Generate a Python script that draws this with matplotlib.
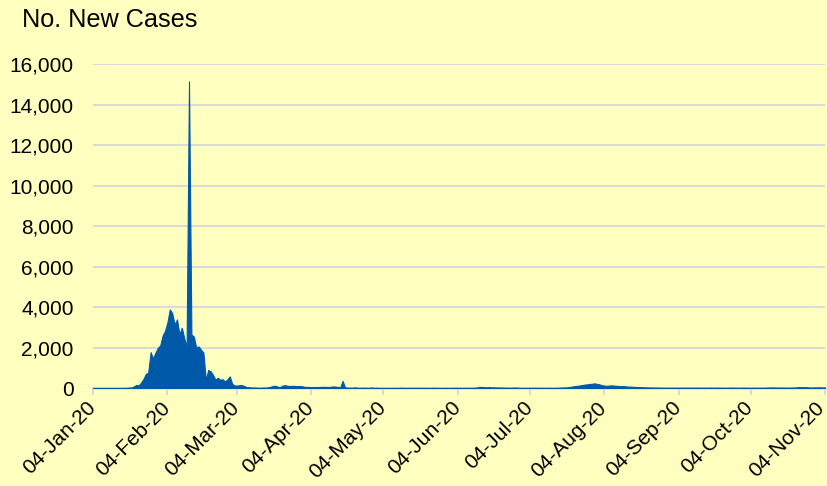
import numpy as np
import pandas as pd
import matplotlib
matplotlib.use("Agg")
import matplotlib.pyplot as plt
import matplotlib.dates as mdates
from matplotlib.ticker import FuncFormatter
from matplotlib.transforms import ScaledTranslation

plt.rcParams['font.family'] = ['Liberation Sans', 'DejaVu Sans']

# Daily new cases, starting 04-Jan-20
start_date = "2020-01-04"
jan = [0, 0, 0, 0, 0, 0, 0, 0, 0, 0, 0, 0, 0, 4, 4, 17, 20,
       77, 149, 131, 259, 444, 688, 769, 1771, 1459, 1737, 1981]
feb = [2099, 2589, 2825, 3235, 3884, 3694, 3143, 3385, 2652, 2973, 2467, 2015,
       15141, 2640, 2540, 2009, 2051, 1891, 1751, 394, 891, 826, 648, 409,
       508, 406, 433, 327, 427]
mar = [573, 202, 125, 119, 139, 143, 99, 44, 40, 19, 24, 15, 8, 11, 20, 16,
       30, 60, 100, 110, 60, 50, 120, 140, 110, 100, 110, 100, 90, 100, 90]
apr = [60, 55, 50, 45, 40, 45, 50, 55, 60, 55, 50, 60, 80, 70, 45, 30,
       352, 27, 16, 12, 11, 30, 10, 6, 12, 11, 3, 6, 22, 4]
may = [12, 2, 1, 3, 1, 2, 1, 4, 1, 1, 14, 1, 7, 3, 7, 4, 5, 7, 6, 6, 5, 3,
       2, 3, 11, 7, 4, 1, 2, 4, 2]
jun = [1, 5, 5, 7, 6, 6, 4, 6, 3, 3, 11, 18, 57, 49, 40, 32, 44, 26, 32, 25,
       22, 21, 18, 12, 11, 7, 17, 19, 12, 3]
jul = [5, 3, 4, 6, 9, 10, 7, 5, 7, 4, 5, 8, 6, 4, 6,
       11, 22, 20, 25, 40, 60, 80, 100, 110, 130, 150, 170, 180, 200, 210, 230]
aug = [200, 180, 140, 120, 110, 120, 130, 120, 110, 100, 90, 95, 80, 70, 70,
       60, 50, 45, 40, 35, 30, 25, 25, 20, 20, 15, 15, 12, 10, 10, 10]
sep = [10, 12, 14, 8, 10, 15, 12, 10, 11, 9, 14, 13, 10, 12, 10, 9, 15, 12,
       10, 14, 12, 11, 8, 10, 12, 15, 14, 10, 9, 11]
oct_ = [15, 12, 10, 8, 13, 11, 9, 12, 10, 14, 18, 20, 24, 21, 13, 16, 19, 15,
        12, 14, 17, 20, 24, 44, 40, 30, 42, 25, 20, 24, 29]
nov = [24, 33, 22, 27]

cases = jan + feb + mar + apr + may + jun + jul + aug + sep + oct_ + nov
dates = pd.date_range(start_date, periods=len(cases), freq="D")

bg = "#FFFFBF"
blue = "#0058A8"
grey = "#D9D9DC"

fig = plt.figure(figsize=(8.28, 4.86), dpi=100, facecolor=bg)
ax = fig.add_axes([93 / 828, 1 - 388 / 486, 732 / 828, 324 / 486])
ax.set_facecolor(bg)

ax.fill_between(dates, cases, 0, color=blue, edgecolor=blue, linewidth=0.8, zorder=3)

ax.set_ylim(0, 16000)
ax.set_yticks(np.arange(0, 16001, 2000))
ax.yaxis.set_major_formatter(FuncFormatter(lambda v, p: f"{int(v):,}"))
ax.grid(axis='y', color=grey, linewidth=1.4, zorder=0)

ax.set_xlim(pd.Timestamp("2020-01-04"), pd.Timestamp("2020-11-04"))
ax.xaxis.set_major_locator(mdates.MonthLocator(bymonthday=4))
ax.xaxis.set_major_formatter(mdates.DateFormatter("%d-%b-%y"))

for s in ['top', 'right', 'left']:
    ax.spines[s].set_visible(False)
ax.spines['bottom'].set_color(grey)
ax.spines['bottom'].set_linewidth(1.8)
ax.spines['bottom'].set_zorder(2)

ax.tick_params(axis='y', length=0, pad=14, labelsize=15)
ax.tick_params(axis='x', direction='out', length=5, width=1.5, color=grey,
               pad=3, labelsize=15)
xlabels = ax.get_xticklabels()
for i, lab in enumerate(xlabels):
    dx = -7 if i < len(xlabels) - 1 else -10
    lab.set_rotation(45)
    lab.set_ha('right')
    lab.set_va('top')
    lab.set_rotation_mode('anchor')
    lab.set_transform(lab.get_transform() + ScaledTranslation(dx / 100, 1 / 100, fig.dpi_scale_trans))

fig.text(22 / 828, 1 - 27 / 486, "No. New Cases", fontsize=18.2, va='baseline')

fig.savefig("out.png", dpi=100, facecolor=bg)
